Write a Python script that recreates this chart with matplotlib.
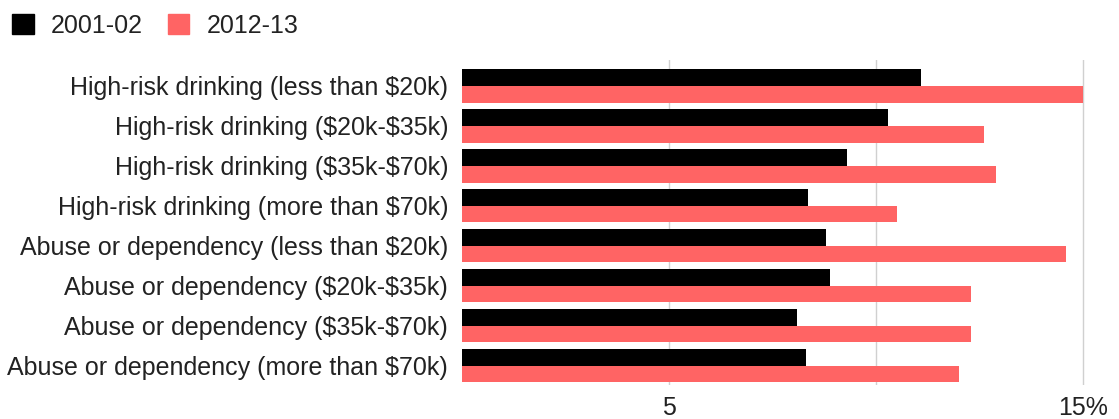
import matplotlib
matplotlib.use('Agg')
import matplotlib.pyplot as plt
import matplotlib.patches as mpatches
import numpy as np

# 数据：从图上读出来的百分比
categories = [
    'High-risk drinking (less than $20k)',
    'High-risk drinking ($20k-$35k)',
    'High-risk drinking ($35k-$70k)',
    'High-risk drinking (more than $70k)',
    'Abuse or dependency (less than $20k)',
    'Abuse or dependency ($20k-$35k)',
    'Abuse or dependency ($35k-$70k)',
    'Abuse or dependency (more than $70k)',
]
vals_2001 = [11.1, 10.3, 9.3, 8.35, 8.8, 8.9, 8.1, 8.3]
vals_2012 = [15.0, 12.6, 12.9, 10.5, 14.6, 12.3, 12.3, 12.0]
series_names = ['2001-02', '2012-13']
x_ticks = [5, 10, 15]
x_tick_labels = ['5', '', '15%']

plt.rcParams['font.family'] = ['Liberation Sans', 'DejaVu Sans']
plt.rcParams['text.parse_math'] = False  # 美元符号不要当公式
text_color = '#222222'
black = '#000000'
red = '#FF6464'
fs = 18

fig = plt.figure(figsize=(11.19, 4.19), dpi=100)
ax = fig.add_axes([462 / 1119, 34 / 419, 625 / 1119, 325 / 419])

y = np.arange(len(categories))
h = 0.41
ax.barh(y - h / 2 - 0.005, vals_2001, height=h, color=black, zorder=3)
ax.barh(y + h / 2 + 0.005, vals_2012, height=h, color=red, zorder=3)

ax.set_xlim(0, 15.1)
ax.set_ylim(7.48, -0.65)
ax.set_yticks(y)
ax.set_yticklabels(categories, fontsize=fs, color=text_color)
ax.set_xticks(x_ticks)
ax.set_xticklabels(x_tick_labels, fontsize=fs, color=text_color)
ax.tick_params(axis='both', length=0)
ax.tick_params(axis='y', pad=10)
ax.tick_params(axis='x', pad=8)

ax.grid(axis='x', color='#d0d0d0', linewidth=1, zorder=0)
for s in ax.spines.values():
    s.set_visible(False)

handles = [mpatches.Patch(color=black, label=series_names[0]),
           mpatches.Patch(color=red, label=series_names[1])]
fig.legend(handles=handles, loc='upper left', bbox_to_anchor=(-0.009, 1.02),
           ncol=2, frameon=False, fontsize=fs, handlelength=0.85,
           handleheight=0.85, handletextpad=0.7, columnspacing=1.0,
           labelcolor=text_color)

plt.savefig('out.png', dpi=100)
plt.close()
